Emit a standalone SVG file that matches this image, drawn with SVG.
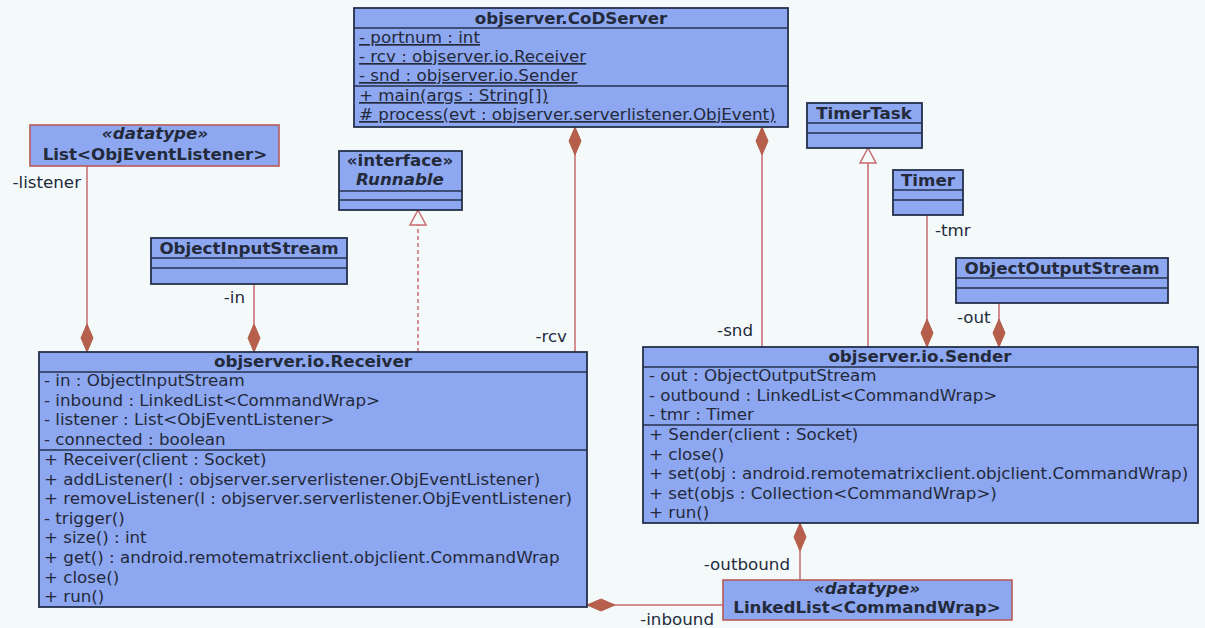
<svg xmlns="http://www.w3.org/2000/svg" width="1205" height="628" viewBox="0 0 1205 628">
  <style>
    .box { fill: #8ea7f1; stroke: #24304a; stroke-width: 1.8; }
    .dt { fill: #8ea7f1; stroke: #b85a5a; stroke-width: 1.6; }
    .sep { stroke: #24304a; stroke-width: 1.6; }
    .t { font-family: "DejaVu Sans", Verdana, sans-serif; font-size: 16.7px; fill: #232a3a; }
    .b { font-weight: bold; }
    .i { font-style: italic; }
    .c { text-anchor: middle; }
    .e { text-anchor: end; }
    .u { text-decoration: underline; }
    .lbl { font-family: "DejaVu Sans", Verdana, sans-serif; font-size: 16.7px; fill: #232a3a; }
    .conn { stroke: #c96a6e; stroke-width: 1.5; fill: none; }
    .dash { stroke-dasharray: 4 3; }
  </style>
  <defs>
    <marker id="diamond" viewBox="-30 -8 32 16" refX="0" refY="0" markerWidth="32" markerHeight="16" markerUnits="userSpaceOnUse" orient="auto-start-reverse">
      <path d="M0,0 L-14,-6 L-28,0 L-14,6 Z" fill="#b65f4c" stroke="#b65f4c" stroke-width="1"/>
    </marker>
    <marker id="hollow" viewBox="-18 -10 20 20" refX="0" refY="0" markerWidth="20" markerHeight="20" markerUnits="userSpaceOnUse" orient="auto">
      <path d="M0,0 L-15,-8 L-15,8 Z" fill="#f4fafa" stroke="#c96a6e" stroke-width="1.5"/>
    </marker>
  </defs>
  <rect x="0" y="0" width="1205" height="628" fill="#f4fafa"/>

  <!-- associations, realization and generalization -->
  <g id="connectors">
    <path class="conn" d="M87,166 L87,352" marker-end="url(#diamond)"/>
    <text class="lbl e" x="81" y="188">-listener</text>
    <path class="conn" d="M254,284 L254,352" marker-end="url(#diamond)"/>
    <text class="lbl e" x="245" y="303">-in</text>
    <path class="conn dash" d="M418,352 L418,210" marker-end="url(#hollow)"/>
    <path class="conn" d="M575,127 L575,352" marker-start="url(#diamond)"/>
    <text class="lbl e" x="567" y="342">-rcv</text>
    <path class="conn" d="M762,127 L762,347" marker-start="url(#diamond)"/>
    <text class="lbl e" x="753" y="336">-snd</text>
    <path class="conn" d="M868,347 L868,148" marker-end="url(#hollow)"/>
    <path class="conn" d="M927,215 L927,347" marker-end="url(#diamond)"/>
    <text class="lbl" x="935" y="236">-tmr</text>
    <path class="conn" d="M999,303 L999,347" marker-end="url(#diamond)"/>
    <text class="lbl" x="957" y="323">-out</text>
    <path class="conn" d="M800,523 L800,580" marker-start="url(#diamond)"/>
    <text class="lbl e" x="790" y="570">-outbound</text>
    <path class="conn" d="M587,605 L723,605" marker-start="url(#diamond)"/>
    <text class="lbl e" x="714" y="625">-inbound</text>
  </g>

  <g id="CoDServer">
    <rect class="box" x="354" y="8" width="434" height="119"/>
    <line class="sep" x1="354" y1="28" x2="788" y2="28"/>
    <line class="sep" x1="354" y1="86" x2="788" y2="86"/>
    <text class="t b c" x="571" y="24">objserver.CoDServer</text>
    <text class="t u" x="359" y="43">- portnum : int</text>
    <text class="t u" x="359" y="62">- rcv : objserver.io.Receiver</text>
    <text class="t u" x="359" y="81">- snd : objserver.io.Sender</text>
    <text class="t u" x="359" y="101">+ main(args : String[])</text>
    <text class="t u" x="359" y="120"># process(evt : objserver.serverlistener.ObjEvent)</text>
  </g>

  <g id="ListObjEventListener">
    <rect class="dt" x="30" y="125" width="249" height="41"/>
    <text class="t b i c" x="155" y="139">«datatype»</text>
    <text class="t b c" x="155" y="160">List&lt;ObjEventListener&gt;</text>
  </g>

  <g id="Runnable">
    <rect class="box" x="339" y="151" width="123" height="59"/>
    <line class="sep" x1="339" y1="191" x2="462" y2="191"/>
    <line class="sep" x1="339" y1="200" x2="462" y2="200"/>
    <text class="t b c" x="400" y="166">«interface»</text>
    <text class="t b i c" x="400" y="185">Runnable</text>
  </g>

  <g id="ObjectInputStream">
    <rect class="box" x="151" y="238" width="196" height="46"/>
    <line class="sep" x1="151" y1="258" x2="347" y2="258"/>
    <line class="sep" x1="151" y1="268" x2="347" y2="268"/>
    <text class="t b c" x="249" y="254">ObjectInputStream</text>
  </g>

  <g id="TimerTask">
    <rect class="box" x="807" y="103" width="115" height="45"/>
    <line class="sep" x1="807" y1="123" x2="922" y2="123"/>
    <line class="sep" x1="807" y1="133" x2="922" y2="133"/>
    <text class="t b c" x="864" y="119">TimerTask</text>
  </g>

  <g id="Timer">
    <rect class="box" x="893" y="170" width="70" height="45"/>
    <line class="sep" x1="893" y1="190" x2="963" y2="190"/>
    <line class="sep" x1="893" y1="200" x2="963" y2="200"/>
    <text class="t b c" x="928" y="186">Timer</text>
  </g>

  <g id="ObjectOutputStream">
    <rect class="box" x="956" y="258" width="212" height="45"/>
    <line class="sep" x1="956" y1="278" x2="1168" y2="278"/>
    <line class="sep" x1="956" y1="288" x2="1168" y2="288"/>
    <text class="t b c" x="1062" y="274">ObjectOutputStream</text>
  </g>

  <g id="Receiver">
    <rect class="box" x="39" y="352" width="548" height="255"/>
    <line class="sep" x1="39" y1="372" x2="587" y2="372"/>
    <line class="sep" x1="39" y1="450" x2="587" y2="450"/>
    <text class="t b c" x="313" y="367">objserver.io.Receiver</text>
    <text class="t" x="44" y="386">- in : ObjectInputStream</text>
    <text class="t" x="44" y="405.6">- inbound : LinkedList&lt;CommandWrap&gt;</text>
    <text class="t" x="44" y="425.2">- listener : List&lt;ObjEventListener&gt;</text>
    <text class="t" x="44" y="444.8">- connected : boolean</text>
    <text class="t" x="44" y="465">+ Receiver(client : Socket)</text>
    <text class="t" x="44" y="484.6">+ addListener(l : objserver.serverlistener.ObjEventListener)</text>
    <text class="t" x="44" y="504.2">+ removeListener(l : objserver.serverlistener.ObjEventListener)</text>
    <text class="t" x="44" y="523.8">- trigger()</text>
    <text class="t" x="44" y="543.4">+ size() : int</text>
    <text class="t" x="44" y="563">+ get() : android.remotematrixclient.objclient.CommandWrap</text>
    <text class="t" x="44" y="582.6">+ close()</text>
    <text class="t" x="44" y="602.2">+ run()</text>
  </g>

  <g id="Sender">
    <rect class="box" x="643" y="347" width="555" height="176"/>
    <line class="sep" x1="643" y1="367" x2="1198" y2="367"/>
    <line class="sep" x1="643" y1="425" x2="1198" y2="425"/>
    <text class="t b c" x="920" y="362">objserver.io.Sender</text>
    <text class="t" x="649" y="381">- out : ObjectOutputStream</text>
    <text class="t" x="649" y="400.6">- outbound : LinkedList&lt;CommandWrap&gt;</text>
    <text class="t" x="649" y="420">- tmr : Timer</text>
    <text class="t" x="649" y="440">+ Sender(client : Socket)</text>
    <text class="t" x="649" y="459.6">+ close()</text>
    <text class="t" x="649" y="479.2">+ set(obj : android.remotematrixclient.objclient.CommandWrap)</text>
    <text class="t" x="649" y="498.8">+ set(objs : Collection&lt;CommandWrap&gt;)</text>
    <text class="t" x="649" y="518.4">+ run()</text>
  </g>

  <g id="LinkedListCommandWrap">
    <rect class="dt" x="723" y="580" width="289" height="40"/>
    <text class="t b i c" x="867" y="594">«datatype»</text>
    <text class="t b c" x="867" y="613">LinkedList&lt;CommandWrap&gt;</text>
  </g>
</svg>
